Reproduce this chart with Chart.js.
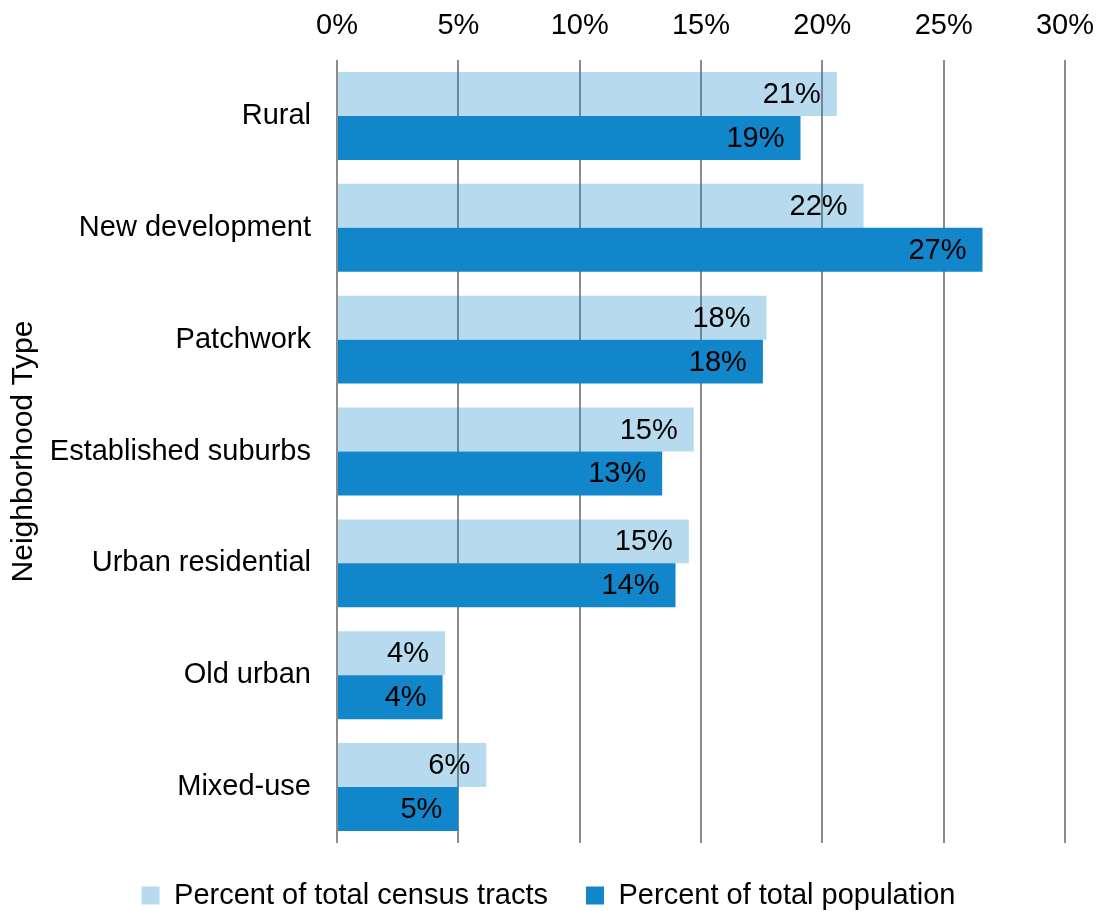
<!DOCTYPE html>
<html>
<head>
<meta charset="utf-8">
<script src="https://cdn.jsdelivr.net/npm/chart.js@4/dist/chart.umd.min.js"></script>
<style>
  html, body { margin: 0; padding: 0; background: #fff; overflow: hidden; }
  canvas { display: block; }
</style>
</head>
<body>
<canvas id="myChart" width="1097" height="911"></canvas>
<script>
// categories, top to bottom
var neighborhoods = ['Rural', 'New development', 'Patchwork', 'Established suburbs', 'Urban residential', 'Old urban', 'Mixed-use'];

// percent values
var censusTracts = [20.6, 21.7, 17.7, 14.7, 14.5, 4.45, 6.15];
var population = [19.1, 26.6, 17.55, 13.4, 13.95, 4.35, 5.0];

// x axis ticks
var xTicks = [0, 5, 10, 15, 20, 25, 30];

var seriesNames = ['Percent of total census tracts', 'Percent of total population'];

var FONT = "'Liberation Sans', Arial, sans-serif";

//draws the rounded percent at the inside end of each bar
var barLabels = {
	id: 'barLabels',
	afterDatasetsDraw: function(chart) {
		var ctx = chart.ctx;
		ctx.save();
		ctx.font = '29px ' + FONT;
		ctx.fillStyle = '#000';
		ctx.textAlign = 'right';
		ctx.textBaseline = 'middle';
		chart.data.datasets.forEach(function(ds, i) {
			var meta = chart.getDatasetMeta(i);
			meta.data.forEach(function(bar, j) {
				ctx.fillText(Math.round(ds.data[j]) + '%', bar.x - 16, bar.y + 1);
			});
		});
		ctx.restore();
	}
};

var ctx = document.getElementById('myChart').getContext('2d');
var chart = new Chart(ctx, {
	type: 'bar',
	data: {
		labels: neighborhoods,
		datasets: [{
			label: seriesNames[0],
			data: censusTracts,
			backgroundColor: 'rgba(17, 134, 202, 0.3)',
			categoryPercentage: 0.786,
			barPercentage: 1.0
		}, {
			label: seriesNames[1],
			data: population,
			backgroundColor: '#1186CA',
			categoryPercentage: 0.786,
			barPercentage: 1.0
		}]
	},
	options: {
		indexAxis: 'y',
		responsive: false,
		animation: false,
		layout: { padding: { left: 0, right: 0, top: 0, bottom: -9 } },
		scales: {
			x: {
				position: 'top',
				min: xTicks[0],
				max: xTicks[xTicks.length - 1],
				afterBuildTicks: function(scale) {
					scale.ticks = xTicks.map(function(v) { return { value: v }; });
				},
				afterFit: function(scale) {
					scale.height = 60;
					scale.paddingLeft = 0;
					scale.paddingRight = 32;
				},
				ticks: {
					padding: 17,
					color: '#000',
					font: { family: FONT, size: 29 },
					callback: function(v) { return v + '%'; }
				},
				grid: { color: '#8c8c8c', lineWidth: 2, drawTicks: false },
				border: { display: false }
			},
			y: {
				afterFit: function(scale) {
					scale.width = 337;
					scale.paddingTop = 0;
					scale.paddingBottom = 0;
				},
				ticks: {
					padding: 26,
					color: '#000',
					font: { family: FONT, size: 29 }
				},
				grid: { display: false, drawTicks: false },
				border: { display: false },
				title: {
					display: true,
					text: 'Neighborhood Type',
					color: '#000',
					font: { family: FONT, size: 30 },
					padding: { top: 6, bottom: 0 }
				}
			}
		},
		plugins: {
			legend: {
				position: 'bottom',
				labels: {
					boxWidth: 18,
					boxHeight: 18,
					padding: 38,
					color: '#000',
					font: { family: FONT, size: 29 }
				}
			},
			tooltip: { enabled: false }
		}
	},
	plugins: [barLabels]
});
</script>
</body>
</html>
